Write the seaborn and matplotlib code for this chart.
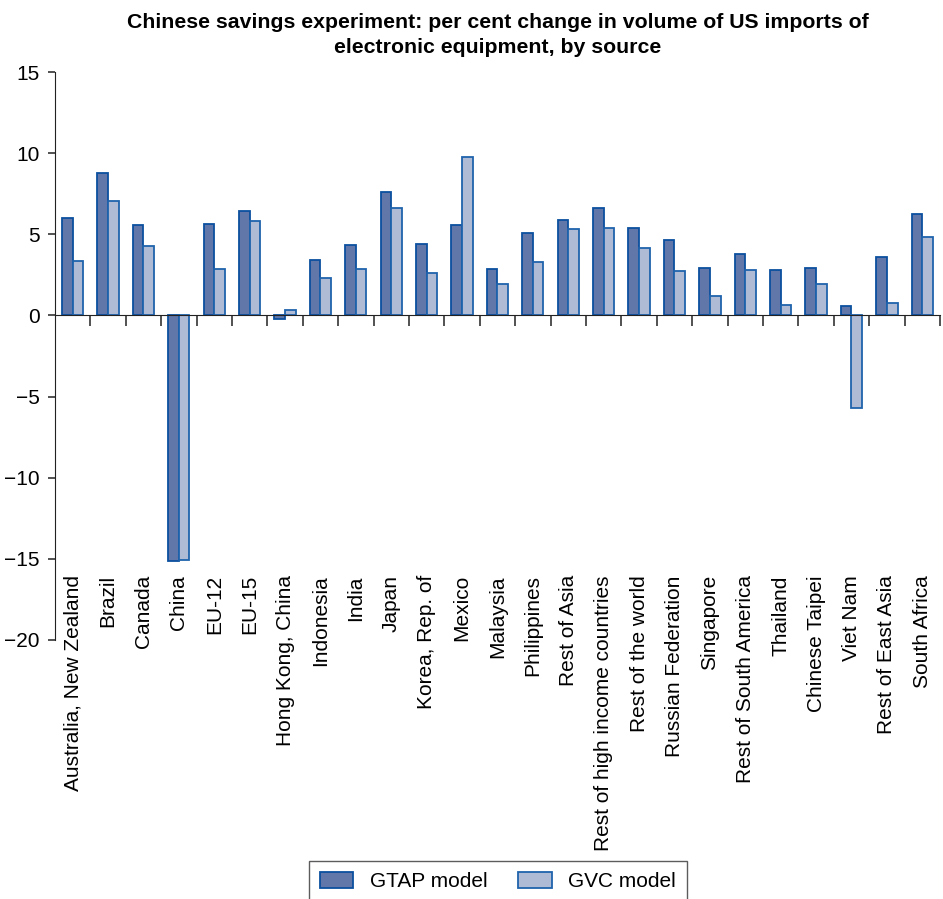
import matplotlib
matplotlib.use("Agg")
import matplotlib.pyplot as plt
import numpy as np
import pandas as pd
import seaborn as sns

sources = [
    "Australia, New Zealand", "Brazil", "Canada", "China", "EU-12", "EU-15",
    "Hong Kong, China", "Indonesia", "India", "Japan", "Korea, Rep. of",
    "Mexico", "Malaysia", "Philippines", "Rest of Asia",
    "Rest of high income countries", "Rest of the world", "Russian Federation",
    "Singapore", "Rest of South America", "Thailand", "Chinese Taipei",
    "Viet Nam", "Rest of East Asia", "South Africa",
]
gtap_values = [
    6.0, 8.76, 5.55, -15.15, 5.65, 6.43, -0.2, 3.44, 4.35, 7.61, 4.43,
    5.55, 2.89, 5.07, 5.86, 6.6, 5.36, 4.64, 2.93, 3.79, 2.78, 2.93,
    0.58, 3.61, 6.23,
]
gvc_values = [
    3.38, 7.07, 4.29, -15.1, 2.87, 5.79, 0.31, 2.29, 2.89, 6.6, 2.64,
    9.79, 1.96, 3.3, 5.32, 5.4, 4.16, 2.74, 1.2, 2.82, 0.64, 1.96,
    -5.68, 0.76, 4.85,
]
model_names = ["GTAP model", "GVC model"]
y_ticks = [-20, -15, -10, -5, 0, 5, 10, 15]

fill_colors = ["#5573b5", "#a9b7db"]
edge_colors = ["#0b4f9e", "#1f63ad"]

frame = pd.DataFrame({
    "source": sources * 2,
    "value": gtap_values + gvc_values,
    "model": [model_names[0]] * len(sources) + [model_names[1]] * len(sources),
})

sns.set_style("ticks")
plt.rcParams["font.family"] = ["Liberation Sans", "DejaVu Sans"]
plt.rcParams["text.color"] = "black"
plt.rcParams["xtick.color"] = "black"
plt.rcParams["ytick.color"] = "black"

fig = plt.figure(figsize=(9.43, 8.99), dpi=100)
ax = fig.add_axes([0.0583, 0.2881, 0.9385, 0.6318])

sns.barplot(
    data=frame, x="source", y="value", hue="model", order=sources,
    hue_order=model_names, palette=fill_colors, width=0.6, ax=ax,
)
for container, edge in zip(ax.containers, edge_colors):
    for patch in container:
        patch.set_edgecolor(edge)
        patch.set_linewidth(1.3)

ax.set_xlim(-0.5, len(sources) - 0.5)
ax.set_ylim(-20, 15)
ax.set_yticks(y_ticks)
ax.set_yticklabels([f"{t}".replace("-", "\u2212") for t in y_ticks], fontsize=15)
ax.set_xlabel("")
ax.set_ylabel("")

ax.spines["bottom"].set_position(("data", 0))
ax.spines["right"].set_visible(False)
ax.spines["top"].set_visible(False)
ax.spines["left"].set_color("#222222")
ax.spines["bottom"].set_color("#222222")
ax.set_xticks(np.arange(len(sources)) + 0.5)
ax.set_xticklabels([""] * len(sources))
ax.tick_params(axis="x", direction="out", length=8, width=1.2, color="#333333")
ax.tick_params(axis="y", direction="out", length=5, width=1.2, color="#333333", pad=6)

for i, name in enumerate(sources):
    ax.text(i, 0.114, name, rotation=90, ha="center", va="top", fontsize=15,
            color="black", transform=ax.get_xaxis_transform())

ax.set_title(
    "Chinese savings experiment: per cent change in volume of US imports of\n"
    "electronic equipment, by source",
    fontsize=15.3, fontweight="bold", pad=14, linespacing=1.35, color="black",
)

handles, labels = ax.get_legend_handles_labels()
ax.get_legend().remove()
for handle, edge in zip(handles, edge_colors):
    handle.set_edgecolor(edge)
    handle.set_linewidth(1.3)
fig.legend(
    handles, labels, loc="upper center", bbox_to_anchor=(0.528, 0.042), ncol=2,
    fontsize=15, frameon=True, fancybox=False, edgecolor="#333333",
    borderpad=0.5, handlelength=1.6, handleheight=0.8, columnspacing=1.5,
    handletextpad=0.8, borderaxespad=0,
)
fig.legends[0].get_frame().set_linewidth(1.0)

fig.savefig("out.png", dpi=100)
